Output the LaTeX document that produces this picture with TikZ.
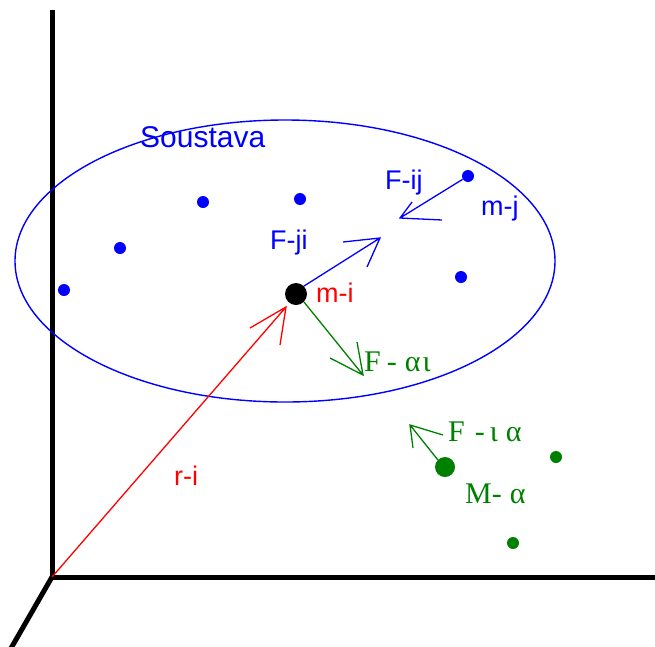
\documentclass[tikz,border=0pt]{standalone}
\usepackage{fontspec}
\usetikzlibrary{shapes.geometric}
\setmainfont{Liberation Sans}
\newfontfamily\serifgr{Liberation Serif}
\definecolor{pblue}{RGB}{0,0,255}
\definecolor{pred}{RGB}{255,0,0}
\definecolor{pgreen}{RGB}{0,128,0}
\begin{document}
\begin{tikzpicture}[x=1pt,y=-1pt,
  axis/.style={line width=5pt,black},
  vec/.style={line width=1.3pt},
  dot/.style={circle,fill,inner sep=0pt,minimum size=12pt},
  lbl/.style={inner sep=0pt,anchor=west,font=\fontsize{27}{30}\selectfont},
  glbl/.style={inner sep=0pt,anchor=west,font=\serifgr\fontsize{30}{34}\selectfont,text=pgreen}]
\useasboundingbox (0,0) rectangle (655,646);
% axes
\coordinate (O) at (52,577);
\coordinate (ytop) at (52,10);
\coordinate (xend) at (660,577);
\coordinate (zend) at (10,650);
\draw[axis] (ytop) -- (O) -- (xend);
\draw[axis] (O) -- (zend);
% system ellipse
\node[draw=pblue,line width=1.4pt,ellipse,inner sep=0pt,minimum width=540pt,minimum height=282pt] (sys) at (285,261) {};
\node[lbl,text=pblue,font=\fontsize{30}{34}\selectfont] (sl) at (140,137) {Soustava};
% blue dots
\node[dot,pblue] (b1) at (64,290) {};
\node[dot,pblue] (b2) at (120,248) {};
\node[dot,pblue] (b3) at (203,202) {};
\node[dot,pblue] (b4) at (300,199) {};
\node[dot,pblue] (mj) at (468,176) {};
\node[dot,pblue] (b6) at (461,277) {};
% m-i
\node[dot,black,minimum size=22pt] (mi) at (296,294) {};
\node[lbl,text=pred] (mil) at (316,293) {m-i};
% r-i
\coordinate (rt) at (286,307);
\coordinate (rb1) at (250,328);
\coordinate (rb2) at (280,345);
\draw[vec,pred] (O) -- (rt) (rb1) -- (rt) -- (rb2);
\node[lbl,text=pred] (ril) at (174,476) {r-i};
% F-ji
\coordinate (jt) at (380,238);
\coordinate (jb1) at (343,242);
\coordinate (jb2) at (367,267);
\draw[vec,pblue] (mi.45) -- (jt) (jb1) -- (jt) -- (jb2);
\node[lbl,text=pblue] (fjil) at (270,243) {F-ji};
% F-ij
\coordinate (it) at (400,218);
\coordinate (ib1) at (412,202);
\coordinate (ib2) at (442,220);
\draw[vec,pblue] (mj) -- (it) (ib1) -- (it) -- (ib2);
\node[lbl,text=pblue] (fijl) at (385,183) {F-ij};
\node[lbl,text=pblue] (mjl) at (481,209) {m-j};
% F-alpha iota
\coordinate (at) at (363,375);
\coordinate (ab1) at (330,358);
\coordinate (ab2) at (357,342);
\draw[vec,pgreen] (mi.-45) -- (at) (ab1) -- (at) -- (ab2);
\node[glbl] (fail) at (364,362) {F\hspace{6pt}-\hspace{8pt}α\hspace{2pt}ι};
% green dots
\node[dot,pgreen,minimum size=20pt] (Ma) at (445,467) {};
\node[dot,pgreen] (g2) at (556,457) {};
\node[dot,pgreen] (g3) at (513,543) {};
\node[glbl] (Mal) at (465,494) {M-\hspace{8pt}α};
% F-iota alpha
\coordinate (gt) at (410,425);
\coordinate (gb1) at (413,448);
\coordinate (gb2) at (443,435);
\draw[vec,pgreen] (Ma.135) -- (gt) (gb1) -- (gt) -- (gb2);
\node[glbl] (fial) at (448,432) {F\hspace{10pt}-\hspace{5pt}ι\hspace{8pt}α};
\end{tikzpicture}
\end{document}
